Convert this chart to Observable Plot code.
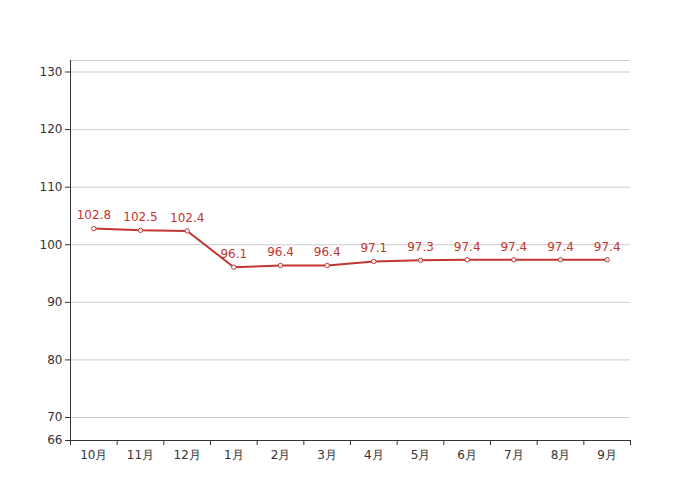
<!DOCTYPE html>
<html><head><meta charset="utf-8">
<script src="https://cdn.jsdelivr.net/npm/d3@7"></script>
<script src="https://cdn.jsdelivr.net/npm/@observablehq/plot@0.6"></script>
<style>body{margin:0;background:#fff;font-family:"DejaVu Sans",sans-serif;}</style>
</head><body><div id="chart"></div>
<script>
const months = ["10月","11月","12月","1月","2月","3月","4月","5月","6月","7月","8月","9月"];
const values = [102.8,102.5,102.4,96.1,96.4,96.4,97.1,97.3,97.4,97.4,97.4,97.4];
const yTicks = [66,70,80,90,100,110,120,130];
const gridTicks = [70,80,90,100,110,120,130,132];

const data = months.map((m,i)=>({i:i+0.5, m, v:values[i]}));
const red = "#c23531";

const chart = Plot.plot({
  width:700, height:500,
  marginLeft:70, marginRight:70, marginTop:60, marginBottom:60,
  style:{fontFamily:"DejaVu Sans, sans-serif", fontSize:"12px", color:"#333", background:"#fff"},
  x:{domain:[0,12]},
  y:{domain:[66,132]},
  marks:[
    Plot.ruleY(gridTicks,{stroke:"#ccc", strokeWidth:1}),
    Plot.axisY({ticks:yTicks, tickSize:5, tickPadding:3, label:null, fontSize:12}),
    Plot.axisX({ticks:d3.range(0,13), tickSize:5, tickFormat:()=>"", label:null}),
    Plot.axisX({ticks:data.map(d=>d.i), tickSize:0, tickPadding:10, tickFormat:(d)=>months[Math.floor(d)], label:null, fontSize:12}),
    Plot.ruleX([0],{stroke:"#333"}),
    Plot.ruleY([66],{stroke:"#333"}),
    Plot.line(data,{x:"i", y:"v", stroke:red, strokeWidth:2}),
    Plot.dot(data,{x:"i", y:"v", r:2.2, fill:"#fff", stroke:red, strokeWidth:1}),
    Plot.text(data,{x:"i", y:"v", text:d=>d.v.toFixed(1), dy:-13, fill:red, fontSize:12})
  ]
});
document.getElementById("chart").append(chart);
</script></body></html>
